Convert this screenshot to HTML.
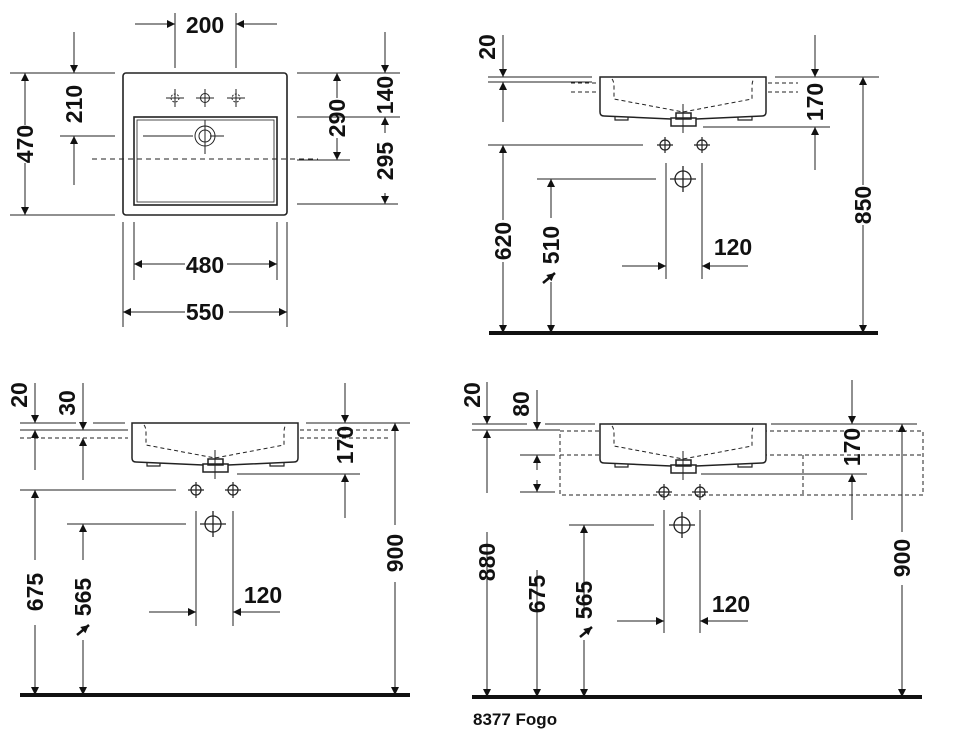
<!DOCTYPE html>
<html><head><meta charset="utf-8"><style>
html,body{margin:0;padding:0;background:#fff}
svg{display:block}
text{font-family:"Liberation Sans",sans-serif;font-weight:bold;font-size:23px;fill:#111}
</style></head><body>
<svg width="960" height="745" viewBox="0 0 960 745" xmlns="http://www.w3.org/2000/svg">
<defs>
<marker id="a" viewBox="0 0 10 10" refX="10" refY="5" markerWidth="13" markerHeight="8" markerUnits="userSpaceOnUse" orient="auto"><path d="M0,0L10,5L0,10Z" fill="#111"/></marker>
<g id="basin" fill="none" stroke="#222" stroke-width="1.5">
<path d="M0,0H166V35Q166,39 162,39L96,42H71L4,39Q0,39 0,35Z" fill="#fff"/>
<path d="M12,2Q14,4 14,10V22L83,35L152,22V10Q152,4 154,2" stroke-dasharray="4,3" stroke-width="1"/>
<rect x="71" y="41" width="25" height="8" fill="#fff"/>
<rect x="76" y="36" width="15" height="6"/>
<path d="M15,40v3h13v-3M138,40v3h14v-3" stroke-width="1.2"/>
<path d="M83,27V56" stroke-width="1"/>
</g>
<g id="hole" fill="none" stroke="#222" stroke-width="1.2"><circle r="5"/><path d="M-8,0H8M0,-8V8"/></g>
<g id="drain" fill="none" stroke="#222" stroke-width="1.3"><circle r="8"/><path d="M-13,0H13M0,-13V13"/></g>
</defs>
<g stroke="#222" stroke-width="1" fill="none">
<!-- Q1 -->
<rect x="123" y="73" width="164" height="142" rx="3" stroke-width="1.6"/>
<rect x="134" y="117" width="143" height="88" stroke-width="1.6"/>
<rect x="137" y="120" width="137" height="82" stroke-width="0.8"/>
<path d="M92,159H318" stroke-dasharray="5,4"/>
<g stroke-dasharray="2,1.5"><circle cx="175" cy="98" r="4"/><circle cx="236" cy="98" r="4"/></g>
<path d="M166,98h18M175,89v18M227,98h18M236,89v18M196,98h18M205,89v18"/>
<circle cx="205" cy="98" r="4.5"/>
<circle cx="205" cy="136" r="10"/><circle cx="205" cy="136" r="6"/>
<path d="M143,136h50M210,136h14M205,120v34"/>
<path d="M175,13v55M236,13v55"/>
<path d="M10,73H115M10,215H115M60,136H115"/>
<path d="M297,73H400M297,117H400M297,160H350M297,204H398"/>
<path d="M123,222V327M287,222V327M134,222V280M277,222V280"/>
<!-- Q2 -->
<path d="M488,77H592M775,77H879M488,82H592"/>
<path d="M571,83H598M571,92H598M768,83H798M768,92H798" stroke-dasharray="4,3"/>
<path d="M703,127H830M488,145H643M537,179H656M666,163V279M702,163V279"/>
<!-- Q3 -->
<path d="M20,423H76M93,423H125M306,423H410M20,430H125"/>
<path d="M20,430H128M20,438H128M300,430H390M300,438H390" stroke-dasharray="4,3"/>
<path d="M237,474H360M20,490H176M67,524H186M196,511V626M233,511V626"/>
<!-- Q4 -->
<path d="M472,424H527M545,424H595M771,424H917M472,430H560"/>
<path d="M560,431H923V495H560ZM560,455H923M803,455V495" stroke-dasharray="4,3"/>
<path d="M520,455H555M520,492H555M701,474H867M569,525H654M664,510V633M700,510V633"/>
</g>
<g stroke="#222" stroke-width="1" fill="none" marker-end="url(#a)">
<path d="M135,24H175"/><path d="M277,24H236"/>
<path d="M25,125V73"/><path d="M25,163V215"/>
<path d="M74,32V73"/><path d="M74,185V136"/>
<path d="M337,98V73"/><path d="M337,138V160"/>
<path d="M385,32V73"/><path d="M385,133V117"/><path d="M385,193V204"/>
<path d="M185,264H134"/><path d="M227,264H277"/><path d="M185,312H123"/><path d="M229,312H287"/>
<path d="M503,35V77"/><path d="M503,122V82"/><path d="M815,35V77"/><path d="M815,170V127"/>
<path d="M863,185V77"/><path d="M863,225V333"/>
<path d="M503,220V145"/><path d="M503,262V333"/><path d="M551,218V179"/><path d="M551,282V333"/>
<path d="M622,266H666"/><path d="M748,266H702"/>
<path d="M35,383V423"/><path d="M35,470V430"/><path d="M83,383V430"/><path d="M83,480V438"/>
<path d="M345,383V423"/><path d="M345,518V474"/><path d="M395,525V423"/><path d="M395,582V695"/>
<path d="M35,560V490"/><path d="M35,625V695"/><path d="M83,560V524"/><path d="M83,640V695"/>
<path d="M149,612H196"/><path d="M280,612H233"/>
<path d="M487,382V424"/><path d="M487,493V430"/><path d="M537,390V430"/><path d="M537,470V455"/><path d="M537,480V492"/>
<path d="M852,380V424"/><path d="M852,520V474"/><path d="M902,532V424"/><path d="M902,585V697"/>
<path d="M487,532V697"/><path d="M537,570V697"/><path d="M584,615V525"/><path d="M584,640V697"/>
<path d="M617,621H664"/><path d="M748,621H700"/>
</g>
<g stroke="#111" stroke-width="2.5" marker-end="url(#a)">
<path d="M543,283L555,273"/><path d="M77,635L89,625"/><path d="M580,637L592,627"/>
</g>
<use href="#basin" x="600" y="77"/>
<use href="#basin" x="132" y="423"/>
<use href="#basin" x="600" y="424"/>
<use href="#hole" x="665" y="145"/><use href="#hole" x="702" y="145"/><use href="#drain" x="683" y="179"/>
<use href="#hole" x="196" y="490"/><use href="#hole" x="233" y="490"/><use href="#drain" x="213" y="524"/>
<use href="#hole" x="664" y="492"/><use href="#hole" x="700" y="492"/><use href="#drain" x="682" y="525"/>
<g fill="#111">
<rect x="489" y="331" width="389" height="4"/>
<rect x="20" y="693" width="390" height="4"/>
<rect x="472" y="695" width="450" height="4"/>
</g>
<g text-anchor="middle" dominant-baseline="central">
<text x="205" y="25">200</text>
<text x="205" y="265">480</text>
<text x="205" y="312">550</text>
<text x="733" y="247">120</text>
<text x="263" y="595">120</text>
<text x="731" y="604">120</text>
<text transform="translate(25,144) rotate(-90)">470</text>
<text transform="translate(74,104) rotate(-90)">210</text>
<text transform="translate(337,118) rotate(-90)">290</text>
<text transform="translate(385,95) rotate(-90)">140</text>
<text transform="translate(385,161) rotate(-90)">295</text>
<text transform="translate(487,47) rotate(-90)">20</text>
<text transform="translate(815,102) rotate(-90)">170</text>
<text transform="translate(863,205) rotate(-90)">850</text>
<text transform="translate(503,241) rotate(-90)">620</text>
<text transform="translate(551,245) rotate(-90)">510</text>
<text transform="translate(19,395) rotate(-90)">20</text>
<text transform="translate(67,403) rotate(-90)">30</text>
<text transform="translate(345,445) rotate(-90)">170</text>
<text transform="translate(395,553) rotate(-90)">900</text>
<text transform="translate(35,592) rotate(-90)">675</text>
<text transform="translate(83,597) rotate(-90)">565</text>
<text transform="translate(472,395) rotate(-90)">20</text>
<text transform="translate(521,404) rotate(-90)">80</text>
<text transform="translate(852,447) rotate(-90)">170</text>
<text transform="translate(902,558) rotate(-90)">900</text>
<text transform="translate(487,562) rotate(-90)">880</text>
<text transform="translate(537,594) rotate(-90)">675</text>
<text transform="translate(584,600) rotate(-90)">565</text>
</g>
<text x="473" y="725" style="font-family:'Liberation Sans',sans-serif;font-size:17px">8377 Fogo</text>
</svg>
</body></html>
